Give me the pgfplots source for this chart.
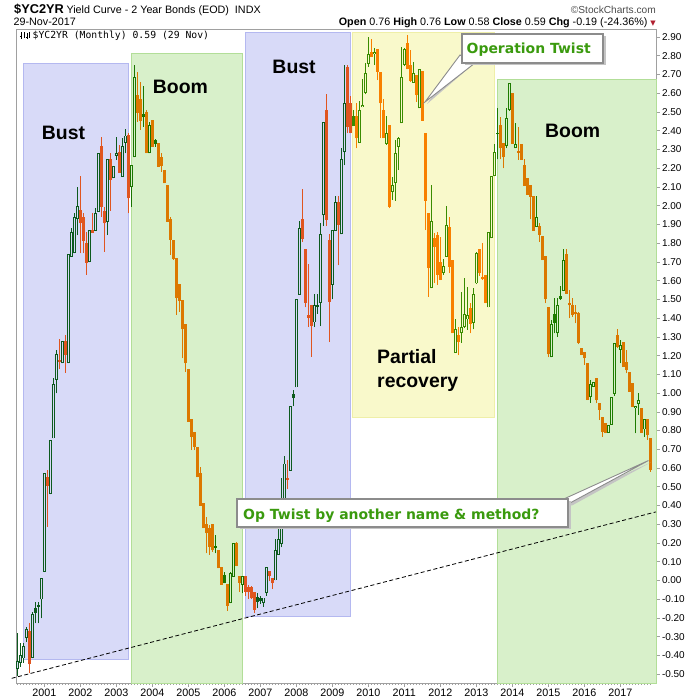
\documentclass[border=0pt]{standalone}
\usepackage{fontspec}
\setmainfont{Liberation Sans}
\newfontfamily\dvs{DejaVu Sans}
\newfontfamily\dvsmono{DejaVu Sans Mono}
\usepackage{pgfplots}
\usepackage{pgfplotstable}
\pgfplotsset{compat=1.18}

\definecolor{framegray}{HTML}{A0A0A0}
\definecolor{bluefill}{HTML}{D8DAF8}
\definecolor{blueline}{HTML}{B4B8F0}
\definecolor{greenfill}{HTML}{D8F0CA}
\definecolor{greenline}{HTML}{B2DE98}
\definecolor{yellowfill}{HTML}{F9F9CB}
\definecolor{yellowline}{HTML}{EFEFA8}
\definecolor{gA}{HTML}{0D5A1E}
\definecolor{rA}{HTML}{E05520}
\definecolor{gB}{HTML}{1A7500}
\definecolor{oB}{HTML}{DC7800}
\definecolor{gD}{HTML}{3A8C00}
\definecolor{oD}{HTML}{F88000}
\definecolor{gE}{HTML}{1D7B00}
\definecolor{oE}{HTML}{DB7700}
\definecolor{calltext}{HTML}{3A9A0E}
\definecolor{callline}{HTML}{8C8C8C}
\definecolor{callshadow}{HTML}{C4C4C4}
\definecolor{chgred}{HTML}{B02030}

\pgfplotstableread{
m o h l c t r
0 -0.47 -0.28 -0.51 -0.43 1 1
1 -0.44 -0.335 -0.46 -0.40 1 1
2 -0.416 -0.335 -0.44 -0.35 1 1
3 -0.309 -0.247 -0.327 -0.261 1 1
4 -0.27 -0.229 -0.496 -0.447 3 1
5 -0.412 -0.167 -0.416 -0.181 1 1
6 -0.145 -0.113 -0.229 -0.172 2 1
7 -0.131 -0.113 -0.229 -0.140 2 1
8 -0.101 0.011 -0.202 0.011 1 1
9 0.047 0.572 0.047 0.572 1 1
10 0.554 0.589 0.287 0.504 3 1
11 0.46 0.75 0.46 0.75 1 1
12 0.758 1.079 0.758 1.048 1 1
13 1.07 1.23 0.999 1.208 1 1
14 1.175 1.287 1.127 1.165 3 1
15 1.159 1.276 1.159 1.276 1 1
16 1.276 1.31 1.109 1.203 3 1
17 1.159 1.74 1.159 1.74 1 1
18 1.728 1.879 1.728 1.858 1 1
19 1.746 1.959 1.746 1.938 1 1
20 1.927 2.101 1.843 1.998 1 1
21 1.977 2.158 1.746 1.906 3 1
22 1.941 1.959 1.746 1.813 3 1
23 1.803 1.861 1.630 1.696 3 1
24 1.698 1.870 1.698 1.870 1 1
25 1.870 1.959 1.856 1.856 3 1
26 1.866 1.986 1.866 1.959 1 1
27 1.968 2.279 1.968 2.279 1 1
28 2.318 2.365 1.941 1.995 3 1
29 1.971 1.995 1.754 1.906 3 1
30 1.915 2.247 1.843 2.247 1 1
31 2.247 2.279 1.973 2.137 3 1
32 2.146 2.212 2.146 2.212 1 1
33 2.267 2.365 2.244 2.279 1 1
34 2.285 2.324 2.176 2.176 3 1
35 2.155 2.359 2.155 2.318 1 1
36 2.336 2.407 2.279 2.374 1 1
37 2.375 2.390 1.959 2.039 3 1
38 2.098 2.215 1.995 2.215 1 2
39 2.258 2.751 2.258 2.685 1 2
40 2.590 2.715 2.448 2.496 3 2
41 2.567 2.661 2.404 2.454 3 2
42 2.487 2.638 2.422 2.471 2 2
43 2.500 2.510 2.279 2.279 3 2
44 2.279 2.448 2.279 2.430 1 2
45 2.457 2.457 2.315 2.315 3 2
46 2.350 2.358 2.315 2.327 2 2
47 2.333 2.333 2.208 2.208 3 2
48 2.261 2.279 2.181 2.212 3 2
49 2.190 2.190 2.119 2.119 3 2
50 2.110 2.110 1.915 1.915 3 2
51 1.927 1.941 1.737 1.817 3 2
52 1.817 1.817 1.710 1.715 3 2
53 1.719 1.719 1.417 1.506 3 2
54 1.582 1.582 1.434 1.493 3 2
55 1.497 1.497 1.185 1.340 3 2
56 1.367 1.367 1.114 1.159 3 2
57 1.127 1.127 0.847 0.847 3 2
58 0.860 0.860 0.696 0.767 3 2
59 0.790 0.790 0.696 0.714 3 2
60 0.710 0.710 0.550 0.550 3 2
61 0.572 0.607 0.399 0.399 3 2
62 0.412 0.412 0.278 0.278 3 2
63 0.301 0.340 0.145 0.252 3 2
64 0.278 0.296 0.136 0.180 3 2
65 0.301 0.301 0.154 0.163 3 2
66 0.184 0.243 0.145 0.172 2 2
67 0.163 0.163 0.065 0.065 3 2
68 0.074 0.074 -0.024 -0.024 3 2
69 0.029 0.047 -0.015 -0.015 2 2
70 -0.019 -0.019 -0.161 -0.136 3 2
71 -0.122 0.047 -0.122 0.042 1 2
72 0.020 0.198 0.020 0.198 1 2
73 0.198 0.207 0.077 0.077 3 2
74 0.024 0.024 -0.060 -0.012 3 2
75 -0.022 0.023 -0.069 0.022 1 2
76 0.023 0.024 -0.081 -0.062 3 3
77 -0.034 -0.024 -0.100 -0.062 3 3
78 -0.034 -0.030 -0.101 -0.095 3 3
79 -0.062 -0.060 -0.175 -0.157 3 3
80 -0.086 -0.069 -0.149 -0.113 2 3
81 -0.091 -0.085 -0.125 -0.110 2 3
82 -0.120 -0.091 -0.139 -0.091 1 3
83 -0.066 0.071 -0.081 0.071 1 3
84 0.052 0.052 -0.005 0.023 3 3
85 0.014 0.014 -0.043 -0.015 3 3
86 0.000 0.223 0.000 0.162 1 3
87 0.138 0.281 0.138 0.223 1 3
88 0.195 0.547 0.176 0.395 1 3
89 0.385 0.662 0.376 0.624 1 3
90 0.547 0.643 0.490 0.538 3 3
91 0.586 0.932 0.586 0.932 1 3
92 0.995 1.014 0.929 0.976 2 3
93 1.030 1.504 1.030 1.504 1 3
94 1.525 1.920 1.525 1.882 1 3
95 1.929 2.091 1.805 1.824 3 3
96 1.771 1.771 1.457 1.481 3 3
97 1.415 1.691 1.352 1.401 3 3
98 1.470 1.470 1.195 1.357 3 3
99 1.377 1.529 1.352 1.472 1 3
100 1.460 1.529 1.424 1.468 1 3
101 1.481 1.910 1.357 1.847 1 3
102 1.948 2.444 1.891 2.444 1 3
103 2.510 2.596 1.891 1.925 3 3
104 1.819 1.849 1.272 1.485 3 3
105 1.577 1.872 1.500 1.872 1 3
106 1.866 2.053 1.866 2.019 1 3
107 2.019 2.053 1.681 1.897 3 3
108 1.847 2.305 1.847 2.247 1 3
109 2.286 2.749 2.215 2.549 1 3
110 2.739 2.749 2.387 2.419 3 3
111 2.549 2.587 2.387 2.387 3 3
112 2.476 2.510 2.425 2.425 2 4
113 2.480 2.550 2.306 2.359 3 4
114 2.336 2.558 2.336 2.511 1 4
115 2.525 2.674 2.525 2.537 1 4
116 2.603 2.759 2.594 2.706 1 4
117 2.756 2.902 2.742 2.809 1 4
118 2.818 2.888 2.795 2.795 3 4
119 2.808 2.840 2.750 2.818 1 4
120 2.834 2.834 2.670 2.715 3 4
121 2.715 2.715 2.359 2.546 3 4
122 2.511 2.567 2.359 2.359 3 4
123 2.329 2.478 2.324 2.386 1 4
124 2.430 2.430 1.986 1.995 3 4
125 2.075 2.155 2.030 2.110 1 4
126 2.119 2.350 2.027 2.283 1 4
127 2.315 2.368 2.190 2.359 1 4
128 2.439 2.848 2.439 2.685 1 4
129 2.751 2.840 2.745 2.834 1 4
130 2.866 2.911 2.727 2.727 3 4
131 2.751 2.830 2.662 2.667 3 4
132 2.656 2.768 2.656 2.706 1 4
133 2.697 2.697 2.555 2.590 3 4
134 2.519 2.727 2.519 2.727 1 4
135 2.719 2.719 2.454 2.454 3 4
136 2.390 2.390 1.870 2.027 3 4
137 1.963 1.963 1.514 1.666 3 4
138 1.559 2.110 1.559 1.918 1 4
139 1.826 1.852 1.586 1.781 3 4
140 1.843 1.860 1.577 1.630 3 4
141 1.701 1.835 1.603 1.603 3 4
142 1.639 1.715 1.630 1.678 1 4
143 1.728 1.998 1.728 1.897 1 4
144 1.888 1.940 1.640 1.674 3 4
145 1.710 1.710 1.319 1.319 3 4
146 1.216 1.396 1.216 1.340 1 4
147 1.310 1.354 1.203 1.274 3 4
148 1.319 1.541 1.269 1.354 1 4
149 1.354 1.612 1.345 1.422 1 4
150 1.393 1.567 1.337 1.416 1 4
151 1.452 1.479 1.319 1.368 3 4
152 1.375 1.559 1.340 1.529 1 4
153 1.585 1.754 1.582 1.749 1 4
154 1.769 1.769 1.625 1.639 3 4
155 1.618 1.803 1.603 1.607 3 4
156 1.630 1.630 1.479 1.479 3 4
157 1.457 1.858 1.457 1.858 1 4
158 1.826 2.158 1.826 2.158 1 4
159 2.158 2.329 2.158 2.285 1 4
160 2.380 2.519 2.247 2.388 1 5
161 2.430 2.475 2.247 2.306 3 5
162 2.333 2.333 2.199 2.258 3 5
163 2.318 2.519 2.306 2.466 1 5
164 2.510 2.656 2.506 2.656 1 5
165 2.603 2.603 2.329 2.329 3 5
166 2.306 2.443 2.306 2.329 1 5
167 2.288 2.421 2.244 2.283 3 5
168 2.329 2.329 2.244 2.244 3 5
169 2.217 2.247 2.107 2.107 3 5
170 2.146 2.146 2.057 2.057 3 5
171 2.110 2.110 1.927 2.048 3 5
172 2.052 2.052 1.867 1.867 3 5
173 1.888 2.052 1.888 1.938 1 5
174 1.892 1.905 1.808 1.844 3 5
175 1.838 1.838 1.710 1.710 3 5
176 1.731 1.731 1.479 1.500 3 5
177 1.457 1.457 1.190 1.207 3 5
178 1.191 1.390 1.191 1.368 1 5
179 1.422 1.505 1.319 1.376 2 5
180 1.319 1.505 1.301 1.470 1 5
181 1.518 1.569 1.497 1.504 2 5
182 1.546 1.767 1.546 1.710 1 5
183 1.742 1.767 1.529 1.529 3 5
184 1.479 1.550 1.399 1.468 3 5
185 1.470 1.505 1.408 1.417 3 5
186 1.430 1.470 1.372 1.420 3 5
187 1.425 1.430 1.260 1.269 3 5
188 1.239 1.239 1.203 1.203 3 5
189 1.221 1.221 1.150 1.185 3 5
190 1.162 1.162 0.963 0.963 3 5
191 0.977 1.070 0.949 1.048 1 5
192 1.034 1.061 1.034 1.061 1 5
193 1.079 1.079 0.945 0.963 3 5
194 0.945 0.945 0.856 0.910 3 5
195 0.874 0.874 0.767 0.794 3 5
196 0.838 0.838 0.785 0.785 3 5
197 0.789 0.830 0.789 0.830 1 5
198 0.830 0.981 0.830 0.981 1 5
199 0.995 1.265 0.984 1.265 1 5
200 1.310 1.340 1.239 1.248 3 5
201 1.230 1.283 1.159 1.256 1 5
202 1.274 1.274 1.141 1.141 3 5
203 1.168 1.230 1.105 1.123 3 5
204 1.114 1.114 1.007 1.007 3 5
205 1.052 1.052 0.927 0.927 3 5
206 0.920 0.930 0.785 0.930 1 5
207 0.942 1.002 0.883 0.963 1 5
208 0.918 0.918 0.789 0.789 3 5
209 0.806 0.860 0.767 0.860 1 5
210 0.860 0.860 0.750 0.776 3 5
211 0.76 0.76 0.58 0.59 3 5
}\cdata

% #1 region, #2 green, #3 orange, #4 background (hollow interior)
\newcommand\candleset[4]{%
\addplot[draw=none, mark=none, forget plot,
  restrict expr to domain={10*\thisrow{r}+\thisrow{t}}{#11:#12},
  error bars/.cd, y dir=plus, y explicit, error mark=none,
  error bar style={draw=#2, line width=0.9bp, solid}]
  table[x=m, y=l, y error plus expr={\thisrow{h}-\thisrow{l}}]{\cdata};
\addplot[draw=none, mark=none, forget plot,
  restrict expr to domain={10*\thisrow{r}+\thisrow{t}}{#13:#13},
  error bars/.cd, y dir=plus, y explicit, error mark=none,
  error bar style={draw=#3, line width=0.9bp, solid}]
  table[x=m, y=l, y error plus expr={\thisrow{h}-\thisrow{l}}]{\cdata};
\addplot[draw=none, mark=none, forget plot,
  restrict expr to domain={10*\thisrow{r}+\thisrow{t}}{#11:#12},
  error bars/.cd, y dir=plus, y explicit, error mark=none,
  error bar style={draw=#2, line width=2.6bp, solid}]
  table[x=m, y expr={min(\thisrow{o},\thisrow{c})},
        y error plus expr={max(abs(\thisrow{c}-\thisrow{o}),0.006)}]{\cdata};
\addplot[draw=none, mark=none, forget plot,
  restrict expr to domain={10*\thisrow{r}+\thisrow{t}}{#13:#13},
  error bars/.cd, y dir=plus, y explicit, error mark=none,
  error bar style={draw=#3, line width=2.6bp, solid}]
  table[x=m, y expr={min(\thisrow{o},\thisrow{c})},
        y error plus expr={max(abs(\thisrow{c}-\thisrow{o}),0.006)}]{\cdata};
\addplot[draw=none, mark=none, forget plot,
  restrict expr to domain={10*\thisrow{r}+\thisrow{t}}{#11:#11},
  error bars/.cd, y dir=plus, y explicit, error mark=none,
  error bar style={draw=#4, line width=0.8bp, solid}]
  table[x=m, y expr={min(\thisrow{o},\thisrow{c})+0.0048},
        y error plus expr={max(abs(\thisrow{c}-\thisrow{o})-0.0096,0)}]{\cdata};
}

\begin{document}
\begin{tikzpicture}
\begin{axis}[
  name=ax,
  scale only axis, width=639.3bp, height=653.7bp,
  xmin=-0.2, xmax=212.9, ymin=-0.547, ymax=2.941,
  clip=false,
  axis line style={draw=framegray, line width=0.8bp},
  xtick={9,21,33,45,57,69,81,93,105,117,129,141,153,165,177,189,201},
  xticklabels={2001,2002,2003,2004,2005,2006,2007,2008,2009,2010,2011,2012,2013,2014,2015,2016,2017},
  minor xtick={0,1,...,211},
  ytick={-0.5,-0.4,-0.3,-0.2,-0.1,0,0.1,0.2,0.3,0.4,0.5,0.6,0.7,0.8,0.9,1.0,1.1,1.2,1.3,1.4,1.5,1.6,1.7,1.8,1.9,2.0,2.1,2.2,2.3,2.4,2.5,2.6,2.7,2.8,2.9},
  xtick pos=left, ytick pos=right, yticklabel pos=right,
  tick align=outside,
  major tick length=3.5bp, minor tick length=2bp,
  tick style={draw=framegray, line width=0.6bp},
  yticklabel style={font=\fontsize{10}{12}\selectfont, anchor=west, xshift=-1bp},
  xticklabel style={font=\fontsize{10.8}{13}\selectfont, yshift=1bp},
  /pgf/number format/fixed, /pgf/number format/fixed zerofill,
  /pgf/number format/precision=2, /pgf/number format/assume math mode=true,
]
% shaded phases
\filldraw[fill=bluefill, draw=blueline, line width=1bp] (axis cs:2.0,-0.424) rectangle (axis cs:37.07,2.760);
\filldraw[fill=greenfill, draw=greenline, line width=1bp] (axis cs:37.9,-0.547) rectangle (axis cs:75.13,2.813);
\filldraw[fill=bluefill, draw=blueline, line width=1bp] (axis cs:76.07,-0.190) rectangle (axis cs:111.13,2.925);
\filldraw[fill=yellowfill, draw=yellowline, line width=1bp] (axis cs:111.8,0.872) rectangle (axis cs:159.23,2.925);
\filldraw[fill=greenfill, draw=greenline, line width=1bp] (axis cs:160,-0.547) rectangle (axis cs:212.9,2.674);

\candleset{1}{gA}{rA}{bluefill}
\candleset{2}{gB}{oB}{greenfill}
\candleset{3}{gA}{rA}{bluefill}
\candleset{4}{gD}{oD}{yellowfill}
\candleset{5}{gE}{oE}{greenfill}

% trend line
\addplot[black, line width=0.8bp, dash pattern=on 4bp off 2.5bp] coordinates {(-1.87,-0.522) (212.9,0.366)};
\coordinate (SW) at (rel axis cs:0,0);
\end{axis}
\path (SW) ++(-16.7bp,-17bp) coordinate (O);

\begin{scope}[shift={(O)}, x=1bp, y=1bp]
% header
\node[anchor=base west, inner sep=0] at (14,686.5)
  {{\bfseries\fontsize{12.8}{14}\selectfont \$YC2YR}\ {\fontsize{10.8}{13}\selectfont Yield Curve - 2 Year Bonds (EOD)\ \ INDX}};
\node[anchor=base west, inner sep=0] at (13.4,674.5) {\fontsize{10.8}{13}\selectfont 29-Nov-2017};
\node[anchor=base east, inner sep=0, text=black!70] at (656,686.7) {\fontsize{10.2}{12}\selectfont \textcopyright StockCharts.com};
\node[anchor=base east, inner sep=0] at (656,674.3) {\fontsize{10.8}{13}\selectfont
  \textbf{Open} 0.76 \textbf{High} 0.76 \textbf{Low} 0.58 \textbf{Close} 0.59 \textbf{Chg} -0.19 (-24.36\%) {\dvs\fontsize{7}{8}\selectfont\color{chgred}▼}};

% legend line inside the plot
\draw[black, line width=0.7bp] (21,661)--(21,668) (20,664)--(21,664) (24,662)--(24,668) (24,666)--(25,666) (27,661)--(27,667) (26,663)--(27,663) (29,662)--(29,668);
\node[anchor=base west, inner sep=0] at (32.5,661.5) {\dvsmono\fontsize{9.8}{11}\selectfont \$YC2YR (Monthly) 0.59 (29 Nov)};

% phase labels
\begin{scope}[every node/.style={anchor=base west, inner sep=0, font=\bfseries\fontsize{19.5}{22}\selectfont}]
\node at (41.7,560) {Bust};
\node at (152.7,606.7) {Boom};
\node at (272.3,626.5) {Bust};
\node at (545,562) {Boom};
\node at (377,337) {Partial};
\node at (377,313) {recovery};
\end{scope}

% callout 1: Operation Twist
\fill[callshadow] (462,647) -- (477,639) -- (427,596) -- cycle;
\filldraw[fill=white, draw=callline, line width=0.9bp] (460,645) -- (475,637) -- (425,598) -- cycle;
\fill[callshadow] (464.5,634.5) rectangle (605.5,663.5);
\filldraw[fill=white, draw=callline, line width=1.2bp] (462,637) rectangle (603,666);
\node[anchor=base west, inner sep=0, text=calltext] at (466.5,646.7) {\dvs\bfseries\fontsize{14}{16}\selectfont Operation Twist};

% callout 2: Op Twist by another name & method?
\fill[callshadow] (557,194.5) -- (572,194.5) -- (650.5,237.5) -- cycle;
\filldraw[fill=white, draw=callline, line width=0.9bp] (555,197) -- (570,197) -- (648.5,239.5) -- cycle;
\fill[callshadow] (239.5,170.5) rectangle (570.5,198.5);
\filldraw[fill=white, draw=callline, line width=1.2bp] (237,173) rectangle (568,201);
\node[anchor=base west, inner sep=0, text=calltext] at (243,181) {\dvs\bfseries\fontsize{14}{16}\selectfont Op Twist by another name \& method?};
\end{scope}
\pgfresetboundingbox
\path[use as bounding box] (O) rectangle ++(700bp,700bp);
\end{tikzpicture}
\end{document}
